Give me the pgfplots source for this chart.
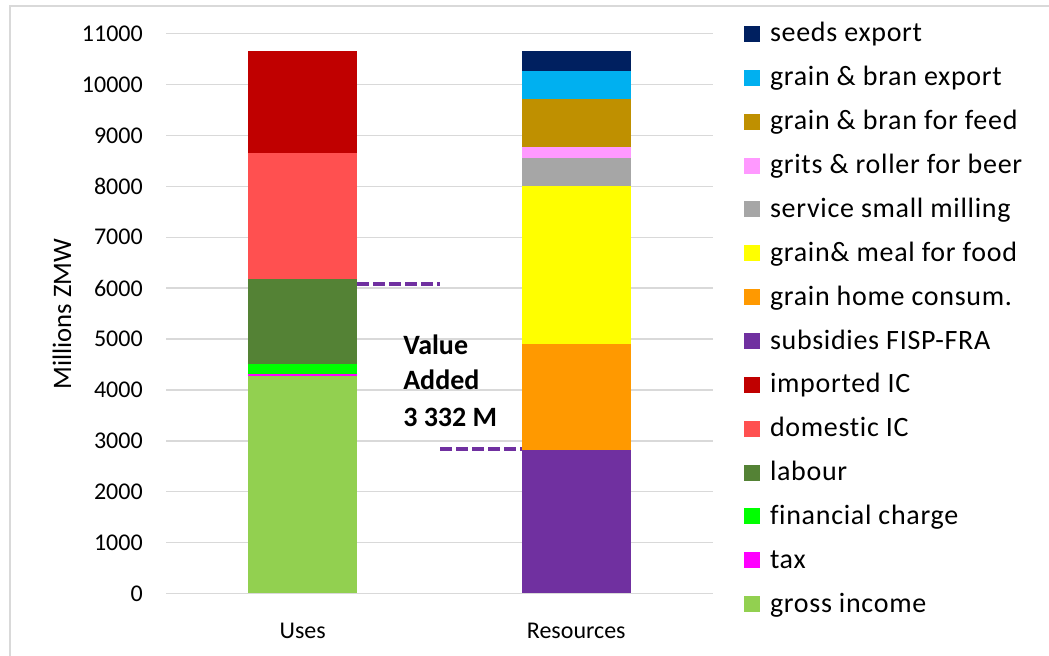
\documentclass[border=0pt]{standalone}
\usepackage{fontspec}
\setmainfont{Carlito}[Ligatures=NoCommon]
\newfontfamily\legfont{Carlito}[Ligatures=NoCommon, LetterSpace=2.5]
\usepackage{pgfplots}
\usepackage{pgfplotstable}
\pgfplotsset{compat=1.18}

\definecolor{cgrid}{HTML}{D9D9D9}
\definecolor{cgross}{HTML}{92D050}
\definecolor{ctax}{HTML}{FF00FF}
\definecolor{cfin}{HTML}{00FF00}
\definecolor{clabour}{HTML}{548235}
\definecolor{cdom}{HTML}{FF5050}
\definecolor{cimp}{HTML}{C00000}
\definecolor{csubs}{HTML}{7030A0}
\definecolor{chome}{HTML}{FF9900}
\definecolor{cfood}{HTML}{FFFF00}
\definecolor{cmill}{HTML}{A6A6A6}
\definecolor{cbeer}{HTML}{FF99FF}
\definecolor{cfeed}{HTML}{BF9000}
\definecolor{cbran}{HTML}{00B0F0}
\definecolor{cseeds}{HTML}{002060}

% millions ZMW, 0 = Uses, 1 = Resources
\pgfplotstableread{
x gross tax fin labour dom imp subs home food mill beer feed bran seeds
0 4274 40 197 1664 2488 2003 0 0 0 0 0 0 0 0
1 0 0 0 0 0 0 2820 2083 3105 550 216 943 550 399
}\vatable

\begin{document}
\begin{tikzpicture}
\path[use as bounding box] (0,0) rectangle (786.75pt,492pt);
\draw[cgrid, line width=1.2pt] (7.5pt,0) -- (7.5pt,487.5pt) -- (786.75pt,487.5pt);
\node[rotate=90, anchor=center, inner sep=0pt, font=\fontsize{20}{24}\selectfont] at (46.5pt,256.5pt) {Millions ZMW};
\begin{axis}[
  at={(124.5pt,46.875pt)}, anchor=south west,
  scale only axis,
  width=410.25pt, height=419.85pt,
  ybar stacked,
  bar width=0.4,
  xmin=-0.5, xmax=1.5,
  ymin=0, ymax=11000,
  xtick={0,1}, xticklabels={Uses,Resources},
  ytick distance=1000,
  scaled y ticks=false,
  ymajorgrids, grid style={draw=cgrid, line width=1.1pt},
  axis line style={draw=none},
  tick style={draw=none},
  /pgf/number format/1000 sep={},
  /pgf/number format/fixed,
  /pgf/number format/assume math mode=true,
  yticklabel style={font=\fontsize{18}{21.6}\selectfont, anchor=east, inner sep=0pt, xshift=-17.25pt},
  xticklabel style={font=\fontsize{18}{21.6}\selectfont, anchor=base, inner sep=0pt, yshift=-34pt},
  reverse legend,
  legend image code/.code={\fill[#1] (0pt,0pt) rectangle (12pt,12pt);},
  legend style={
    at={(axis description cs:1.0567,1.021)}, anchor=north west,
    draw=none, fill=none, inner sep=0pt, outer sep=0pt,
    font=\legfont\fontsize{21}{25}\selectfont,
    nodes={inner sep=0pt, text height=15pt, text depth=4pt, anchor=base west},
    row sep=13.9pt, column sep=7.5pt,
    legend cell align=left,
  },
  clip=false,
]
\addplot[fill=cgross, draw=none] table[x=x, y=gross] {\vatable};
\addlegendentry{gross income}
\addplot[fill=ctax, draw=none] table[x=x, y=tax] {\vatable};
\addlegendentry{tax}
\addplot[fill=cfin, draw=none] table[x=x, y=fin] {\vatable};
\addlegendentry{financial charge}
\addplot[fill=clabour, draw=none] table[x=x, y=labour] {\vatable};
\addlegendentry{labour}
\addplot[fill=cdom, draw=none] table[x=x, y=dom] {\vatable};
\addlegendentry{domestic IC}
\addplot[fill=cimp, draw=none] table[x=x, y=imp] {\vatable};
\addlegendentry{imported IC}
\addplot[fill=csubs, draw=none] table[x=x, y=subs] {\vatable};
\addlegendentry{subsidies FISP-FRA}
\addplot[fill=chome, draw=none] table[x=x, y=home] {\vatable};
\addlegendentry{grain home consum.}
\addplot[fill=cfood, draw=none] table[x=x, y=food] {\vatable};
\addlegendentry{grain\& meal for food}
\addplot[fill=cmill, draw=none] table[x=x, y=mill] {\vatable};
\addlegendentry{service small milling}
\addplot[fill=cbeer, draw=none] table[x=x, y=beer] {\vatable};
\addlegendentry{grits \& roller for beer}
\addplot[fill=cfeed, draw=none] table[x=x, y=feed] {\vatable};
\addlegendentry{grain \& bran for feed}
\addplot[fill=cbran, draw=none] table[x=x, y=bran] {\vatable};
\addlegendentry{grain \& bran export}
\addplot[fill=cseeds, draw=none] table[x=x, y=seeds] {\vatable};
\addlegendentry{seeds export}

% value added markers
\draw[csubs, line width=3pt, dash pattern=on 9pt off 3pt] (axis cs:0.2,6082) -- (axis cs:0.502,6082);
\draw[csubs, line width=3pt, dash pattern=on 9pt off 3pt] (axis cs:0.502,2839) -- (axis cs:0.8,2839);
\node[anchor=base west, inner sep=0pt, font=\bfseries\fontsize{21}{27}\selectfont] at (axis cs:0.3665,4700) {Value};
\node[anchor=base west, inner sep=0pt, font=\bfseries\fontsize{21}{27}\selectfont] at (axis cs:0.3665,3999) {Added};
\node[anchor=base west, inner sep=0pt, font=\bfseries\fontsize{21}{27}\selectfont] at (axis cs:0.3665,3291) {3 332 M};
\end{axis}
\end{tikzpicture}
\end{document}
